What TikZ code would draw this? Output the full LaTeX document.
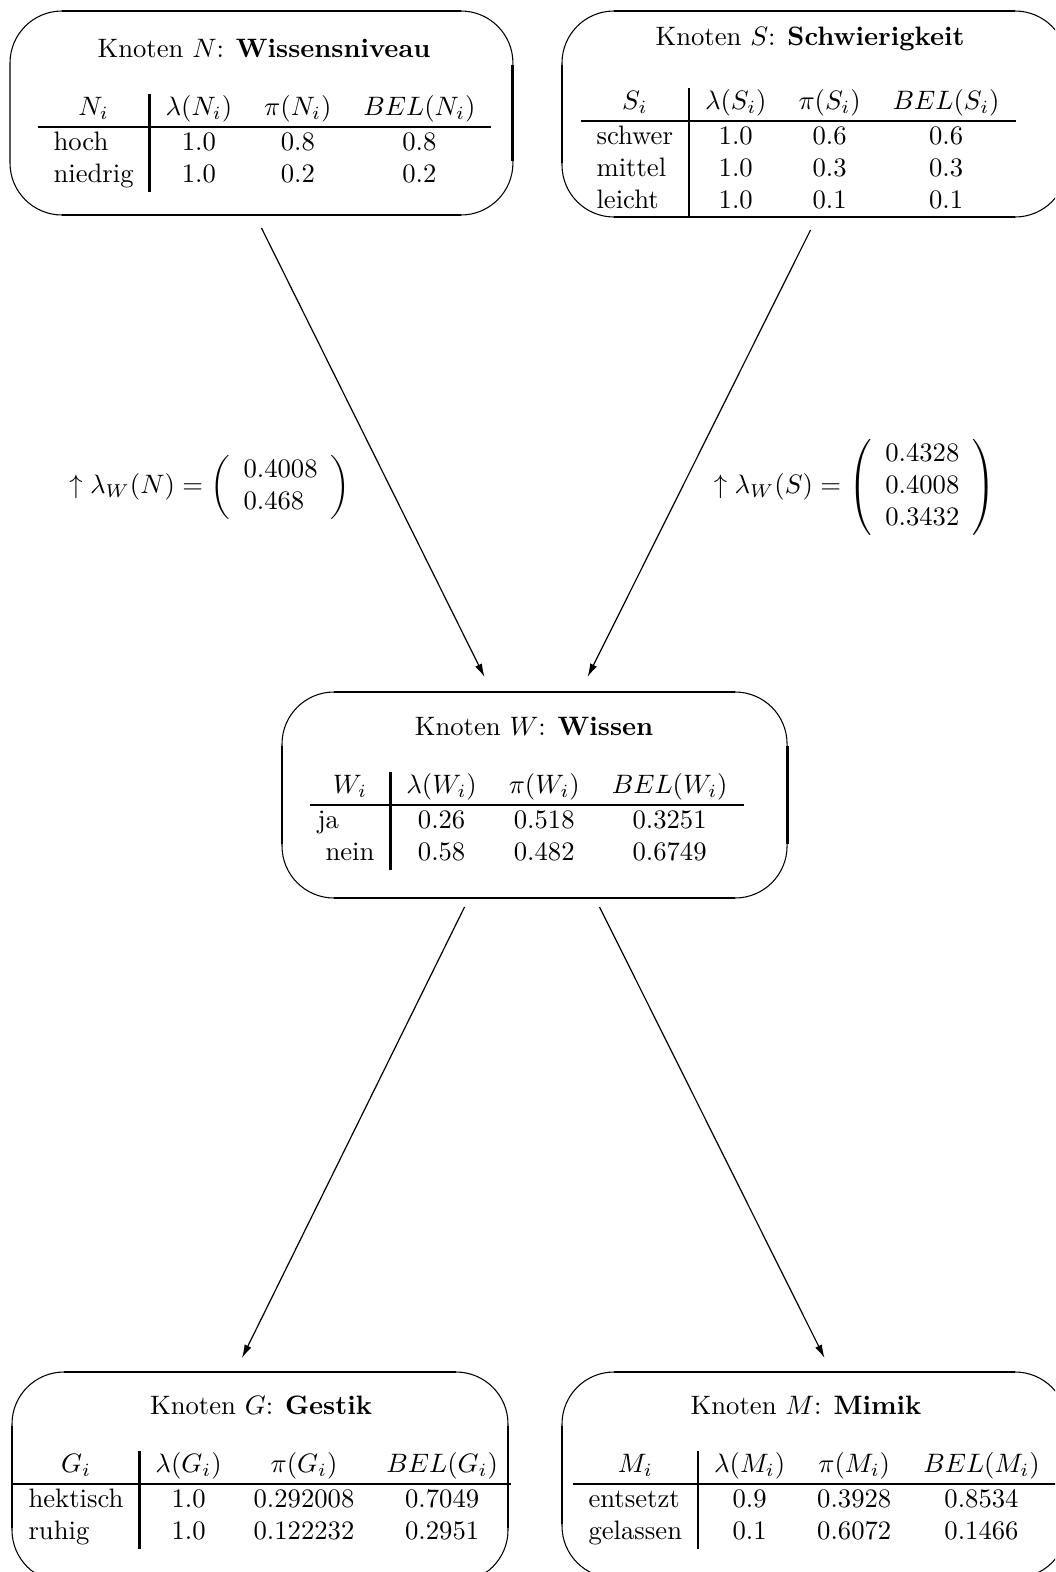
\documentclass[tikz,border=0pt]{standalone}
\usetikzlibrary{calc,arrows.meta}
\setlength\arrayrulewidth{0.9pt}

% straight thick rims laid over the thin rounded outline of a box
\newcommand\rimtop[1]{\draw[rimline] ($(#1.north west)+(52,0)$) -- ($(#1.north east)+(-52,0)$);}
\newcommand\rimbot[1]{\draw[rimline] ($(#1.south west)+(52,0)$) -- ($(#1.south east)+(-52,0)$);}
\newcommand\rimleft[1]{\draw[rimline] ($(#1.north west)+(0,54)$) -- ($(#1.south west)+(0,-54)$);}
\newcommand\rimright[1]{\draw[rimline] ($(#1.north east)+(0,54)$) -- ($(#1.south east)+(0,-54)$);}

\begin{document}
\begin{tikzpicture}[x=0.375pt, y=-0.375pt,
  knotbox/.style={draw, line width=0.4pt, rounded corners=19.5pt, inner sep=0pt,
              outer sep=0pt, anchor=north west},
  rimline/.style={line width=1.1pt},
  link/.style={line width=0.45pt, -{Latex[length=5pt,width=2.8pt]}},
  headnode/.style={anchor=base, inner sep=0pt},
  tabnode/.style={anchor=north west, inner sep=0pt},
  msgnode/.style={inner sep=0pt}]
\useasboundingbox (0,0) rectangle (1055,1572);
\clip (0,0) rectangle (1055,1572);

% ---- node boxes
\node[knotbox, minimum width=188.6pt, minimum height=76.5pt]  (N) at (10,11) {};
\node[knotbox, minimum width=189.4pt, minimum height=77.25pt] (S) at (562,11) {};
\node[knotbox, minimum width=189.4pt, minimum height=77.25pt] (W) at (282,692) {};
\node[knotbox, minimum width=186pt,   minimum height=78.75pt] (G) at (12,1372) {};
\node[knotbox, minimum width=189.4pt, minimum height=77.25pt] (M) at (562,1372) {};

\rimtop{N}\rimbot{N}\rimright{N}
\rimtop{S}\rimbot{S}\rimleft{S}
\rimtop{W}\rimbot{W}\rimleft{W}\rimright{W}
\rimtop{G}\rimleft{G}\rimright{G}
\rimtop{M}\rimleft{M}

% ---- headings
\node[headnode] (Nt) at (264,57)   {Knoten $N$: \textbf{Wissensniveau}};
\node[headnode] (St) at (810,45)   {Knoten $S$: \textbf{Schwierigkeit}};
\node[headnode] (Wt) at (534,735)  {Knoten $W$: \textbf{Wissen}};
\node[headnode] (Gt) at (261,1414) {Knoten $G$: \textbf{Gestik}};
\node[headnode] (Mt) at (806,1414) {Knoten $M$: \textbf{Mimik}};

% ---- tables
\node[tabnode] (Ntab) at (37,93) {\begin{tabular}{l|ccc}
\multicolumn{1}{c|}{$N_i$} & $\lambda(N_i)$ & $\pi(N_i)$ & $BEL(N_i)$\\ \hline
hoch    & 1.0 & 0.8 & 0.8\\
niedrig & 1.0 & 0.2 & 0.2
\end{tabular}};

\node[tabnode] (Stab) at (580,87) {\begin{tabular}{l|ccc}
\multicolumn{1}{c|}{$S_i$} & $\lambda(S_i)$ & $\pi(S_i)$ & $BEL(S_i)$\\ \hline
schwer & 1.0 & 0.6 & 0.6\\
mittel & 1.0 & 0.3 & 0.3\\
leicht & 1.0 & 0.1 & 0.1
\end{tabular}};

\node[tabnode] (Wtab) at (309,771) {\begin{tabular}{l|ccc}
\multicolumn{1}{c|}{$W_i$} & $\lambda(W_i)$ & $\pi(W_i)$ & $BEL(W_i)$\\ \hline
\hspace{-3pt}ja & 0.26 & 0.518 & 0.3251\\
nein & 0.58 & 0.482 & 0.6749
\end{tabular}};

\node[tabnode] (Gtab) at (12,1450) {\begin{tabular}{l|ccc@{\hspace{5pt}}}
\multicolumn{1}{c|}{$G_i$} & $\lambda(G_i)$ & $\pi(G_i)$ & $BEL(G_i)$\\ \hline
hektisch & 1.0 & 0.292008 & 0.7049\\
ruhig    & 1.0 & 0.122232 & 0.2951
\end{tabular}};

\node[tabnode] (Mtab) at (572,1450) {\begin{tabular}{l|ccc}
\multicolumn{1}{c|}{$M_i$} & $\lambda(M_i)$ & $\pi(M_i)$ & $BEL(M_i)$\\ \hline
entsetzt & 0.9 & 0.3928 & 0.8534\\
gelassen & 0.1 & 0.6072 & 0.1466
\end{tabular}};

% ---- messages passed upwards
\node[msgnode] (lamN) at (210,487)
  {$\uparrow \lambda_W(N) = \left( \begin{array}{l} 0.4008\\ 0.468 \end{array} \right)$};
\node[msgnode] (lamS) at (855,487)
  {$\uparrow \lambda_W(S) = \left( \begin{array}{l} 0.4328\\ 0.4008\\ 0.3432 \end{array} \right)$};

% ---- connectors
\coordinate (n1) at ($(N.south)+(0,13)$);
\coordinate (n2) at ($(W.north)+(-50,-15)$);
\coordinate (s1) at ($(S.south)+(-4,13)$);
\coordinate (s2) at ($(W.north)+(53,-15)$);
\coordinate (g1) at ($(W.south)+(-70,9)$);
\coordinate (g2) at ($(G.north)+(-18,-14)$);
\coordinate (m1) at ($(W.south)+(65,9)$);
\coordinate (m2) at ($(M.north)+(10,-14)$);
\draw[link] (n1) -- (n2);
\draw[link] (s1) -- (s2);
\draw[link] (g1) -- (g2);
\draw[link] (m1) -- (m2);
\end{tikzpicture}
\end{document}
